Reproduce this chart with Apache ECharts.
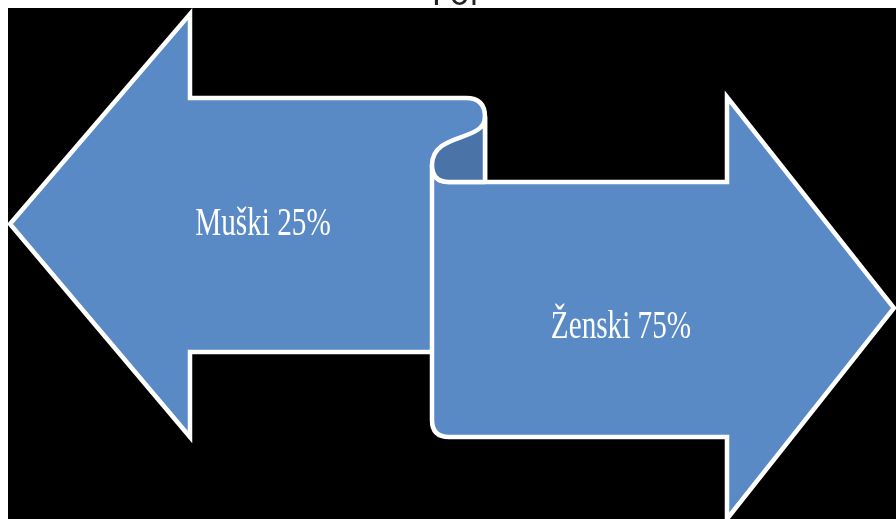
<!DOCTYPE html>
<html>
<head>
<meta charset="utf-8">
<script src="https://cdn.jsdelivr.net/npm/echarts@6/dist/echarts.min.js"></script>
<style>
html,body{margin:0;padding:0;background:#fff;}
#chart{width:896px;height:519px;}
</style>
</head>
<body>
<div id="chart"></div>
<script>
// ---- data ----
const titleText = 'Pol';
const categories = ['Muški', 'Ženski'];
const values = [25, 75];

// ---- style ----
const FILL = '#5A8AC6';
const DARK = '#4A74A8';
const EDGE = '#FFFFFF';
const LW = 4.5;

const chart = echarts.init(document.getElementById('chart'));

function renderItem(params, api) {
  const i = params.dataIndex;
  const v = api.value(1);
  const label = categories[i] + ' ' + v + '%';
  const textStyle = (x, y) => ({
    type: 'text',
    x: x, y: y,
    scaleX: 0.73,
    style: {
      text: label,
      x: 0, y: 0,
      fill: '#fff',
      font: '40px "Liberation Serif", "Times New Roman", serif',
      align: 'center',
      verticalAlign: 'middle'
    },
    z2: 10
  });
  if (i === 0) {
    return {
      type: 'group',
      children: [
        {
          type: 'path',
          shape: { pathData: 'M10,224 L190,14 L190,98 L466,98 Q485,98 485,117 L485,352 L190,352 L190,437 Z' },
          style: { fill: FILL, stroke: EDGE, lineWidth: LW, lineJoin: 'miter' }
        },
        textStyle(263, 224)
      ]
    };
  }
  return {
    type: 'group',
    children: [
      {
        type: 'path',
        shape: { pathData: 'M432,165 L432,420 Q432,437 449,437 L727,437 L727,519 L894,308 L727,97 L727,182 L449,182 Q432,182 432,165 Z' },
        style: { fill: FILL, stroke: EDGE, lineWidth: LW, lineJoin: 'miter' }
      },
      {
        type: 'path',
        shape: { pathData: 'M485,117 C485,142 432,132 432,165 Q432,182 449,182 L485,182 Z' },
        style: { fill: DARK, stroke: EDGE, lineWidth: LW, lineJoin: 'round' }
      },
      textStyle(621, 327)
    ]
  };
}

chart.setOption({
  animation: false,
  backgroundColor: '#fff',
  graphic: [
    { type: 'rect', shape: { x: 8, y: 8, width: 888, height: 511 }, style: { fill: '#000' }, z: -10, silent: true },
    { type: 'text', x: 455, y: 13, style: { text: titleText, fill: '#222', font: '32px "DejaVu Sans", sans-serif', align: 'center', verticalAlign: 'bottom' }, z: -5 }
  ],
  series: [{
    type: 'custom',
    coordinateSystem: 'none',
    data: values.map((v, i) => [i, v]),
    renderItem: renderItem,
    z: 5
  }]
});
</script>
</body>
</html>
